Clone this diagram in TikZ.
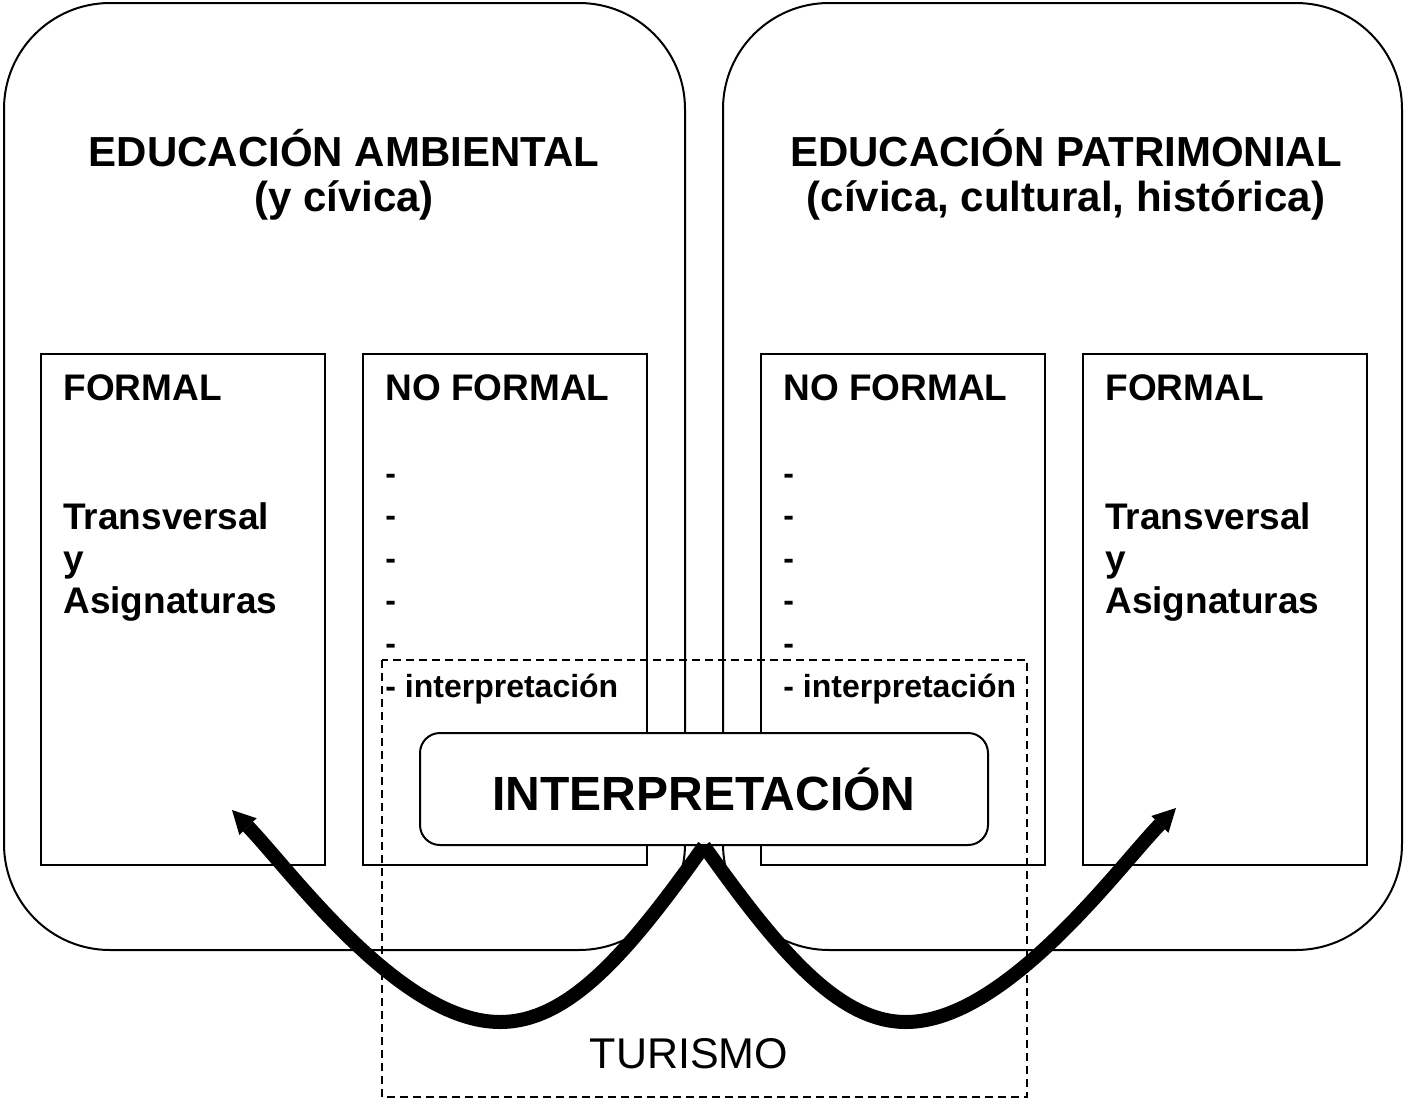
\documentclass[tikz,border=0pt]{standalone}
\usepackage{fontspec}
\setmainfont{Liberation Sans}
\usetikzlibrary{arrows.meta}

\begin{document}
\begin{tikzpicture}[x=0.5pt,y=-0.5pt,
  bigbox/.style={draw,line width=1pt,rounded corners=53pt},
  subbox/.style={draw,line width=1pt},
  zonebox/.style={draw,line width=0.8pt,dash pattern=on 4pt off 2.5pt},
  heading/.style={font=\fontsize{21}{22.5}\selectfont\bfseries,align=center,inner sep=0pt,anchor=base},
  boxtitle/.style={font=\fontsize{18.5}{21}\selectfont\bfseries,align=left,inner sep=0pt,anchor=base west},
  boxitem/.style={font=\fontsize{16}{21.3}\selectfont\bfseries,align=left,inner sep=0pt,anchor=base west},
  bigarrow/.style={line width=7pt,-{Triangle[length=11.5pt,width=12pt,line width=0pt]}}]
\useasboundingbox (0,0) rectangle (1405,1099);
\draw[bigbox] (4,3) rectangle (685,950);
\draw[bigbox] (723,3) rectangle (1402,950);
\node[heading] (ambiental) at (344,211) {EDUCACIÓN AMBIENTAL\\(y cívica)};
\node[heading] (patrimonial) at (1066,211) {EDUCACIÓN PATRIMONIAL\\(cívica, cultural, histórica)};
\draw[subbox] (41,354) rectangle (325,865);
\draw[subbox] (363,354) rectangle (647,865);
\draw[subbox] (761,354) rectangle (1045,865);
\draw[subbox] (1083,354) rectangle (1367,865);
\node[boxtitle] (formalL) at (63,400) {FORMAL};
\node[boxtitle] (formalLtxt) at (63,613) {Transversal\\y\\Asignaturas};
\node[boxtitle] (noformalL) at (385,400) {NO FORMAL};
\node[boxitem] (noformalLtxt) at (385,697) {-\\-\\-\\-\\-\\- interpretación};
\node[boxtitle] (noformalR) at (783,400) {NO FORMAL};
\node[boxitem] (noformalRtxt) at (783,697) {-\\-\\-\\-\\-\\- interpretación};
\node[boxtitle] (formalR) at (1105,400) {FORMAL};
\node[boxtitle] (formalRtxt) at (1105,613) {Transversal\\y\\Asignaturas};
\draw[zonebox] (382,660) rectangle (1027,1097);
\node[font=\fontsize{21.5}{24}\selectfont,inner sep=0pt,anchor=base] (turismo) at (689,1068) {TURISMO};
\node[draw,line width=1pt,fill=white,rounded corners=10pt,minimum width=284pt,minimum height=56pt,font=\fontsize{24}{26}\selectfont\bfseries] (interp) at (704,789) {INTERPRETACIÓN};
\coordinate (tipL) at (232,810);
\coordinate (tipR) at (1176,808);
\draw[bigarrow] (interp.south) .. controls (630,950) and (570,1022) .. (500,1022) .. controls (400,1022) and (290,870) .. (tipL);
\draw[bigarrow] (interp.south) .. controls (778,950) and (838,1022) .. (906,1022) .. controls (1006,1022) and (1120,865) .. (tipR);
\end{tikzpicture}
\end{document}
